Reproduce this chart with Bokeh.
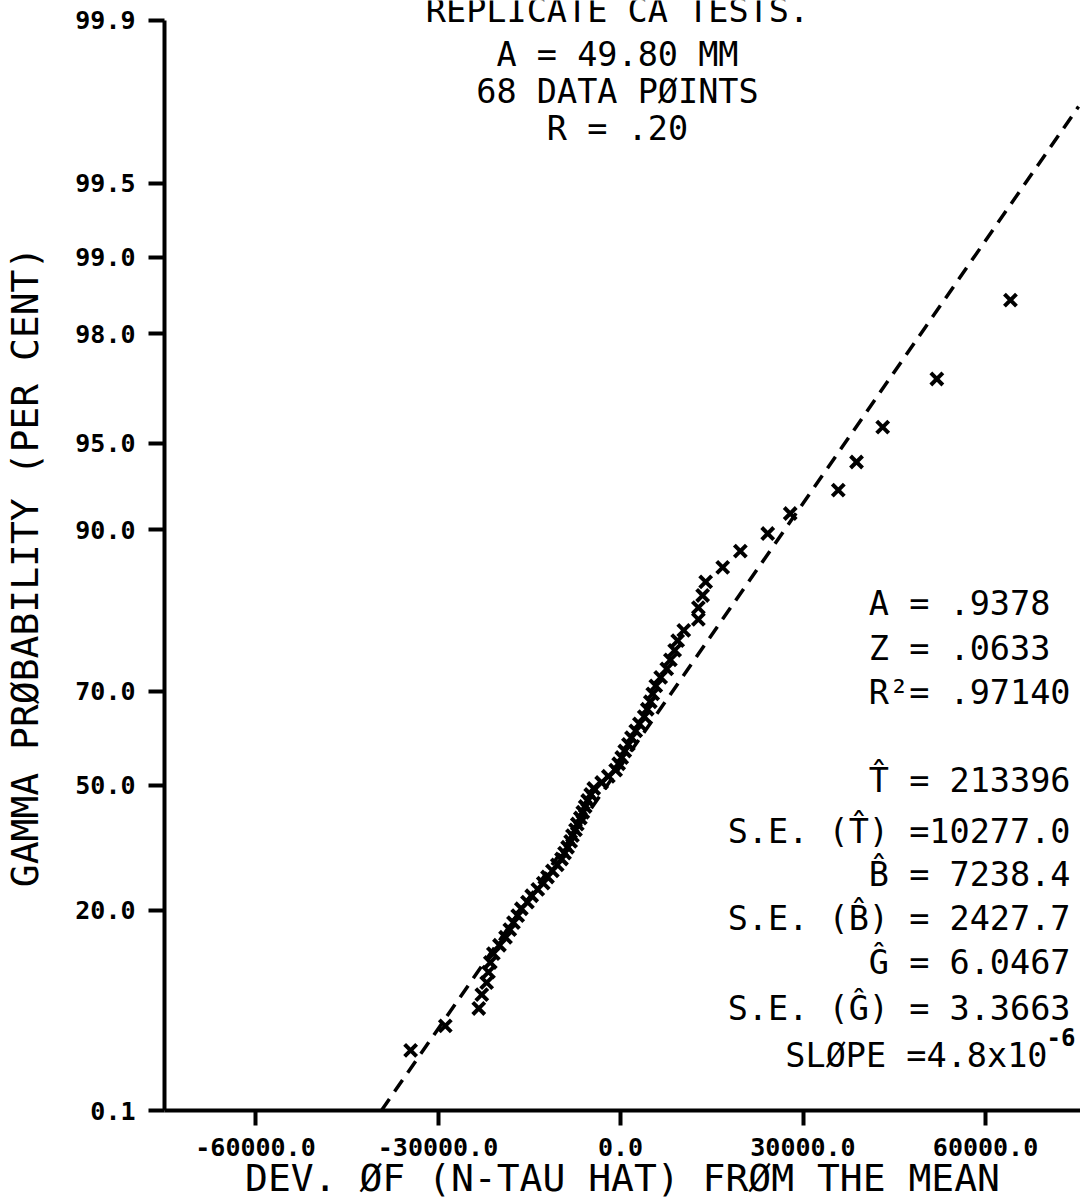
from bokeh.plotting import figure
from bokeh.models import Range1d, FixedTicker, Label
from bokeh.embed import file_html
from bokeh.resources import INLINE

# ---- data ----
# y axis: gamma probability scale, expressed as a reduced variate (0 = 0.1 %, 100 = 99.9 %)
TICK_PROB_LABELS = ["0.1", "20.0", "50.0", "70.0", "90.0", "95.0", "98.0", "99.0", "99.5", "99.9"]
TICK_VARIATE = [0.0, 18.35, 29.82, 38.44, 53.30, 61.19, 71.28, 78.26, 85.05, 100.0]

X_TICKS = [-60000, -30000, 0, 30000, 60000]
X_TICK_LABELS = ["-60000.0", "-30000.0", "0.0", "30000.0", "60000.0"]

# deviation of N-tau hat from the mean (68 data points, ordered)
DEV = [-34500, -28800, -23300, -22800, -22000, -21700, -21400, -20900, -19900, -18900,
       -18200, -17600, -16900, -16300, -15300, -14600, -13600, -12700, -12000, -11200,
       -10400, -9700, -9200, -8700, -8200, -7900, -7400, -7100, -6600, -6200,
       -5800, -5400, -4900, -4400, -3100, -2000, -800, -300, 200, 700,
       1300, 1800, 2500, 3100, 3900, 4400, 4900, 5300, 5800, 6600,
       7600, 8200, 8900, 9400, 10400, 12800, 12800, 13500, 14000, 16800,
       19700, 24200, 27900, 35800, 38800, 43100, 52000, 64100]
# plotted probability of each point, on the same reduced-variate scale
VARIATE = [5.51, 7.77, 9.36, 10.63, 11.73, 12.70, 13.58, 14.39, 15.16, 15.89,
           16.59, 17.24, 17.88, 18.51, 19.12, 19.70, 20.29, 20.86, 21.42, 21.98,
           22.53, 23.07, 23.61, 24.15, 24.69, 25.22, 25.75, 26.28, 26.83, 27.36,
           27.89, 28.44, 28.99, 29.54, 30.09, 30.66, 31.23, 31.81, 32.38, 32.98,
           33.59, 34.20, 34.83, 35.47, 36.13, 36.81, 37.50, 38.22, 38.96, 39.73,
           40.52, 41.34, 42.21, 43.10, 44.05, 45.06, 46.13, 47.25, 48.49, 49.83,
           51.31, 52.93, 54.77, 56.91, 59.49, 62.69, 67.11, 74.34]

# fitted gamma line (dashed)
FIT_X = [-39300, 75300]
FIT_V = [0.0, 92.1]

TITLE_LINES = ["REPLICATE CA TESTS.", "A = 49.80 MM", "68 DATA PØINTS", "R = .20"]
STATS_LINES = ["A =  .9378", "Z =  .0633", "R\u00b2= .97140",
               "T\u0302 = 213396", "S.E. (T\u0302) =10277.0", "B\u0302 = 7238.4",
               "S.E. (B\u0302) = 2427.7", "G\u0302 = 6.0467", "S.E. (G\u0302) = 3.3663",
               "SLØPE =4.8x10"]

MONO = "DejaVu Sans Mono"

p = figure(width=1080, height=1202,
           x_range=Range1d(-74959, 75615), y_range=Range1d(0, 101.83),
           output_backend="svg", toolbar_location=None,
           min_border_left=164, min_border_right=0,
           min_border_top=0, min_border_bottom=92)
p.background_fill_color = "white"
p.border_fill_color = "white"
p.outline_line_color = None
p.grid.visible = False

# axes
p.xaxis.ticker = FixedTicker(ticks=X_TICKS)
p.xaxis.major_label_overrides = {t: l for t, l in zip(X_TICKS, X_TICK_LABELS)}
p.yaxis.ticker = FixedTicker(ticks=TICK_VARIATE)
p.yaxis.major_label_overrides = {t: l for t, l in zip(TICK_VARIATE, TICK_PROB_LABELS)}
p.yaxis.bounds = (0, 100)
for ax in (p.xaxis, p.yaxis):
    ax.axis_line_width = 4
    ax.axis_line_color = "black"
    ax.major_tick_line_width = 4
    ax.major_tick_line_color = "black"
    ax.major_tick_in = 0
    ax.minor_tick_line_color = None
    ax.major_label_text_font = MONO
    ax.major_label_text_font_size = "25px"
    ax.major_label_text_font_style = "bold"
    ax.major_label_text_color = "black"
    ax.axis_label_text_font = MONO
    ax.axis_label_text_font_size = "38px"
    ax.axis_label_text_font_style = "normal"
    ax.axis_label_text_color = "black"
p.yaxis.major_tick_out = 16
p.yaxis.major_label_standoff = 13
p.yaxis.axis_label = "GAMMA PRØBABILITY (PER CENT)\u00a0"
p.yaxis.axis_label_standoff = 25
p.xaxis.major_tick_out = 15
p.xaxis.major_label_standoff = 12
p.xaxis.axis_label = "DEV. ØF (N-TAU HAT) FRØM THE MEAN"
p.xaxis.axis_label_standoff = -3

# fitted line and data
p.line(FIT_X, FIT_V, line_color="black", line_width=3.5, line_dash="14 9")
p.scatter(DEV, VARIATE, marker="x", size=17, line_width=4, line_color="black")

# title block (centred on x = 0)
for txt, yv in zip(TITLE_LINES, [100.92, 96.88, 93.49, 90.09]):
    p.add_layout(Label(x=-500, y=yv, text=txt, text_align="center", text_baseline="middle",
                       text_font=MONO, text_font_size="33.5px", text_color="black"))

# statistics block, right aligned
for txt, yv in zip(STATS_LINES, [46.51, 42.39, 38.35, 30.28, 25.60, 21.65, 17.61, 13.58, 9.36, 5.05]):
    xr = 70190 if txt.startswith("SL") else 73973
    p.add_layout(Label(x=xr, y=yv, text=txt, text_align="right", text_baseline="middle",
                       text_font=MONO, text_font_size="33.5px", text_color="black"))
p.add_layout(Label(x=70026, y=6.70, text="-6", text_align="left", text_baseline="middle",
                   text_font=MONO, text_font_size="24px", text_font_style="bold",
                   text_color="black"))

open("out.html", "w").write(file_html(p, INLINE))
